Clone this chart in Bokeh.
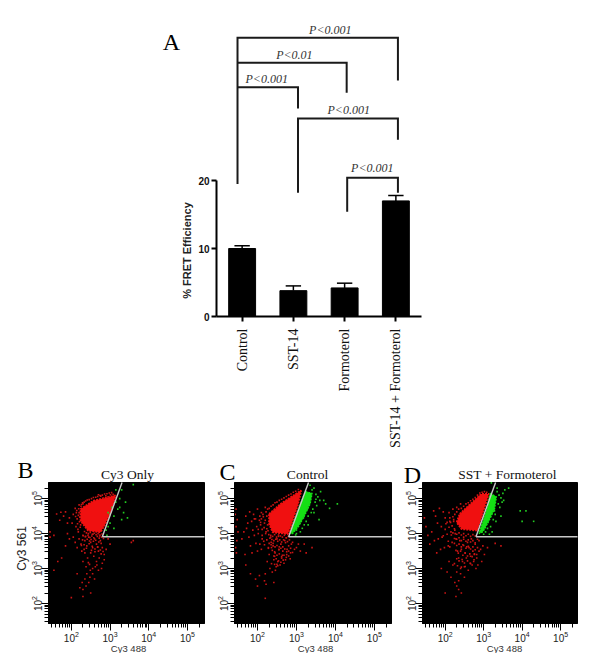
import math
import numpy as np
from bokeh.plotting import figure
from bokeh.layouts import column, row
from bokeh.models import Range1d, FixedTicker, LogTicker
from bokeh.core.properties import value
from bokeh.embed import file_html
from bokeh.resources import INLINE

# ---------- panel A data ----------
categories = ["Control", "SST-14", "Formoterol", "SST-14 + Formoterol"]
efficiency = [10.0, 3.8, 4.2, 17.0]
errors = [0.4, 0.7, 0.7, 0.8]
bracket_1_x = [0.41, 0.41, 3.54, 3.54]
bracket_1_y = [19.5, 41.0, 41.0, 34.7]
bracket_2_x = [0.41, 2.54, 2.54]
bracket_2_y = [37.3, 37.3, 32.9]
bracket_3_x = [0.41, 1.59, 1.59]
bracket_3_y = [33.7, 33.7, 30.6]
bracket_4_x = [1.59, 1.59, 3.54, 3.54]
bracket_4_y = [18.2, 29.1, 29.1, 26.0]
bracket_5_x = [2.55, 2.55, 3.54, 3.54]
bracket_5_y = [15.4, 20.4, 20.4, 18.2]
p_texts = ["P<0.001", "P<0.01", "P<0.001", "P<0.001", "P<0.001"]
p_x = [2.22, 1.52, 0.98, 2.58, 3.04]
p_y = [42.2, 38.5, 34.9, 30.3, 21.9]

# ---------- flow panels (log10 of intensity) ----------
gate_diag_x = [2.8, 3.31]
gate_diag_y = [3.91, 5.46]
gate_horiz_x = [2.8, 5.44]
gate_horiz_y = [3.91, 3.91]

b_core_x = [2.24, 2.58, 3.14, 3.05, 2.88, 2.75, 2.43, 2.24]
b_core_y = [4.70, 4.94, 5.09, 4.70, 4.28, 4.04, 4.09, 4.37]
b_red_x = [1.73,1.62,1.85,1.8,1.95,1.7,1.9,2.05,2.1,2.02,2.15,2.2,2.12,2.25,2.3,2.18,1.9,1.95,2.05,1.55,1.45,1.45,1.85,1.75,1.55,1.65,
           2.1,2.15,2.2,2.25,2.3,2.35,2.4,2.45,2.5,2.55,2.6,2.65,2.7,2.75,2.8,2.85,2.35,2.42,2.5,2.58,2.65,2.72,2.8,2.85,2.3,2.38,2.47,2.55,2.62,2.7,2.78,2.4,2.48,2.35,2.28,2.45,2.55,2.6,2.22,2.3,2.38,2.0,2.3,2.5,2.15,2.9,2.95,3.0,3.55,3.6,
           2.33,2.52,2.68,2.44,2.61,2.77,2.37,2.56,2.73,2.27,2.49,2.66]
b_red_y = [4.61,4.56,4.62,4.5,4.45,4.38,4.3,4.55,4.72,4.3,4.42,4.6,4.2,4.78,4.85,4.05,4.0,3.85,3.9,3.95,3.9,4.05,3.65,3.3,2.95,3.2,
           3.75,3.6,3.85,3.7,3.95,3.8,3.65,3.9,3.75,3.6,3.85,3.7,3.5,3.8,3.6,3.4,3.45,3.3,3.45,3.35,3.2,3.3,3.15,3.25,3.2,3.05,3.12,3.0,3.05,2.95,3.0,2.85,2.75,2.7,2.6,2.6,2.85,2.7,2.45,2.4,2.5,2.17,2.2,2.3,2.85,3.55,3.85,3.7,3.75,3.8,
           3.55,3.52,3.62,3.17,3.48,3.42,3.92,3.98,3.93,3.5,2.95,3.1]
b_red_more = [(2.14,4.66),(2.18,4.52),(2.21,4.34),(2.16,4.28),(2.22,4.47),(2.19,4.71),(2.11,4.49),(2.23,4.18),(2.17,4.12),(2.2,4.82),(2.13,4.6),(2.24,4.25),
              (2.26,4.83),(2.29,4.88),(2.33,4.9),(2.37,4.93),(2.41,4.96),(2.46,4.97),(2.52,5.0),(2.57,5.03),(2.63,5.04),(2.68,5.06),(2.74,5.09),(2.8,5.1),(2.86,5.13),(2.92,5.14),(2.98,5.16),(3.04,5.17),(3.08,5.12),
              (2.7,5.11),(2.76,5.07),(2.83,5.01),(2.89,5.08),(2.95,5.05),(3.01,5.11),(2.34,4.06),(2.39,4.02),(2.44,4.0),(2.49,4.03),(2.54,3.98),(2.59,4.01),(2.64,3.97),(2.69,4.0),(2.74,3.96),(2.79,3.99),
              (2.31,3.94),(2.36,3.91),(2.43,3.95),(2.48,3.89),(2.53,3.93),(2.58,3.88),(2.67,3.92),(2.72,3.87),(2.78,3.9),(2.83,3.86),(2.29,3.82),(2.41,3.84),(2.47,3.79),(2.51,3.83),(2.57,3.78),(2.63,3.81),(2.71,3.76),(2.77,3.72),
              (2.26,3.66),(2.33,3.68),(2.39,3.58),(2.46,3.71),(2.54,3.64),(2.61,3.56),(2.68,3.61),(2.75,3.53),(2.82,3.49)]
b_green_x = [2.95,3.0,3.05,3.1,3.15,3.2,3.25,2.95,2.9,3.0,3.1,3.3,3.35,3.4,3.45,3.6,3.25,3.15,3.3,2.92]
b_green_y = [4.6,4.55,4.75,4.5,4.9,4.7,5.0,4.2,4.1,4.3,4.15,5.25,4.6,4.9,4.45,5.4,4.75,5.25,4.4,3.95]

c_core_x = [2.30, 2.60, 3.12, 3.03, 2.86, 2.78, 2.39, 2.30]
c_core_y = [4.56, 4.85, 5.23, 4.80, 4.23, 3.99, 4.04, 4.28]
c_red_x = [1.45,1.43,1.48,1.45,1.5,1.47,1.44,1.46,1.7,1.8,1.9,2.0,2.1,2.2,1.75,1.85,1.95,2.05,2.15,1.65,1.72,1.88,1.98,2.08,2.18,1.6,1.78,1.92,2.02,2.12,
           2.22,1.82,1.96,2.06,2.16,1.68,1.86,2.0,2.1,2.28,2.35,2.4,2.5,2.6,2.7,2.8,2.9,3.0,3.1,3.2,2.3,2.45,2.55,2.65,2.75,2.85,2.95,2.25,2.42,2.52,2.62,2.72,2.32,2.48,2.58,2.68,2.2,2.38,2.46,1.95,2.05,2.18,2.0,2.22,2.42,1.82,1.7,2.2,
           2.36,2.56,2.76,2.44,2.64,2.84,2.34,2.54,2.74,2.5,3.4,3.25,3.05]
c_red_y = [4.7,4.55,4.4,4.2,4.05,3.8,3.6,3.45,4.5,4.62,4.55,4.7,4.6,4.75,4.3,4.35,4.42,4.38,4.48,4.05,4.15,4.1,4.2,4.25,4.3,3.85,3.9,3.95,4.0,3.95,
           4.05,3.65,3.72,3.7,3.78,3.4,3.45,3.5,3.55,3.6,3.75,3.65,3.85,3.7,3.8,3.65,3.75,3.6,3.5,3.7,3.4,3.45,3.55,3.5,3.4,3.45,3.55,3.2,3.25,3.2,3.3,3.25,3.0,3.05,3.1,3.15,2.85,2.9,2.95,2.7,2.8,2.65,2.5,2.55,2.6,2.85,3.1,2.15,
           3.6,3.62,3.55,3.35,3.38,3.28,3.9,3.92,3.88,3.12,3.6,3.45,3.7]
c_red_more = [(2.22,4.62),(2.26,4.7),(2.3,4.72),(2.35,4.78),(2.4,4.82),(2.45,4.88),(2.5,4.9),(2.56,4.95),(2.62,4.98),(2.68,5.02),(2.74,5.06),(2.8,5.1),(2.86,5.13),(2.92,5.18),(2.98,5.21),(3.05,5.26),
              (2.24,4.5),(2.2,4.38),(2.26,4.25),(2.24,4.14),(2.21,4.0),(2.27,4.08),(2.12,4.12),(2.08,4.32),(2.14,4.55),(2.06,4.5),(2.1,4.42),(2.17,4.17),(2.29,3.97),(2.34,3.95),(2.39,3.92),(2.44,3.97),(2.49,3.9),(2.54,3.96),(2.59,3.93),(2.64,3.9),(2.69,3.95),(2.74,3.88),(2.79,3.92),
              (2.32,3.87),(2.37,3.83),(2.42,3.8),(2.47,3.84),(2.52,3.78),(2.57,3.82),(2.62,3.76),(2.67,3.82),(2.72,3.74),(2.77,3.77),(2.82,3.82),(2.87,3.7),(2.3,3.72),(2.35,3.68),(2.4,3.72),(2.45,3.62),(2.5,3.66),(2.55,3.54),(2.6,3.58),(2.65,3.62),(2.7,3.56),(2.75,3.48),(2.8,3.5),(2.85,3.58),(2.9,3.46),
              (2.38,3.52),(2.44,3.48),(2.5,3.38),(2.56,3.42),(2.62,3.34),(2.68,3.38),(2.74,3.32),(2.8,3.36),(2.42,3.36),(2.48,3.28),(2.54,3.22),(2.6,3.18),(2.66,3.24),(2.36,3.14),(2.44,3.12),(2.52,3.08),(2.02,4.12),(1.92,4.42),(2.12,3.85),(2.18,3.68),(2.24,3.82),(2.28,3.58)]
c_strip_x = [3.23, 3.4, 3.35, 3.2, 3.05, 2.9, 2.84, 2.98, 3.09]
c_strip_y = [5.2, 5.15, 4.85, 4.5, 4.2, 4.0, 4.0, 4.45, 4.8]
c_green_x = [3.4,3.45,3.5,3.55,3.48,3.42,3.38,3.3,3.25,3.2,3.15,3.1,3.0,3.45,3.52,3.35,3.3,3.6,3.75,3.85,4.05,3.7,3.62,3.28,3.18,3.08,3.0,2.98,3.5,3.58]
c_green_y = [5.25,5.3,5.12,5.05,4.9,4.7,4.6,4.5,4.35,4.25,4.15,4.05,4.0,4.6,4.8,5.38,4.25,4.95,4.85,4.72,4.85,4.95,5.2,4.7,4.45,4.3,4.1,3.96,4.98,4.4]

d_core_x = [2.38, 2.94, 3.13, 2.98, 2.84, 2.43, 2.30, 2.38]
d_core_y = [4.56, 5.13, 5.13, 4.61, 4.09, 4.13, 4.32, 4.56]
d_red_x = [1.46,1.5,1.55,1.7,1.75,1.85,1.95,2.0,2.1,2.2,2.3,2.4,1.65,1.8,1.9,2.02,2.12,2.22,1.6,1.72,1.82,1.92,2.05,2.15,2.25,1.78,1.88,1.98,2.08,2.18,
           2.28,2.38,2.48,2.58,2.68,2.78,2.88,2.98,3.1,3.3,3.45,2.32,2.42,2.52,2.62,2.72,2.82,2.92,3.02,2.35,2.45,2.55,2.65,2.75,2.85,2.95,2.4,2.5,2.6,2.7,2.8,2.1,2.2,2.3,2.4,2.5,2.15,2.25,2.35,1.9,2.05,2.3,2.35,2.42,2.28,2.0,2.46,2.56,2.66,2.76]
d_red_y = [4.45,4.2,3.95,4.65,4.5,4.72,4.62,4.45,4.6,4.7,4.75,4.85,4.05,4.3,4.2,4.28,4.35,4.4,3.7,3.8,3.85,3.9,3.98,4.05,4.1,3.45,3.55,3.6,3.65,3.75,
           3.85,3.8,3.9,3.75,3.85,3.7,3.8,3.65,3.6,3.72,3.65,3.5,3.55,3.45,3.6,3.5,3.4,3.55,3.4,3.3,3.2,3.3,3.15,3.25,3.1,3.2,3.0,3.05,2.95,3.1,3.0,3.2,3.1,2.9,2.85,2.75,2.75,2.6,2.65,3.0,2.9,2.5,2.4,2.3,2.2,2.3,3.68,3.62,3.35,3.42]
d_red_more = [(2.2,4.48),(2.25,4.55),(2.3,4.62),(2.35,4.7),(2.42,4.72),(2.48,4.78),(2.54,4.85),(2.6,4.88),(2.66,4.94),(2.72,4.98),(2.78,5.03),(2.84,5.1),(2.9,5.16),(2.96,5.18),(3.02,5.2),(3.08,5.18),
              (2.22,4.35),(2.18,4.22),(2.24,4.14),(2.14,4.32),(2.1,4.18),(2.2,4.02),(2.26,4.0),(2.12,4.45),(2.05,4.32),(2.16,3.96),(2.3,3.98),(2.36,4.02),(2.42,3.96),(2.48,4.0),(2.54,3.94),(2.6,3.98),(2.66,3.92),(2.72,3.97),(2.78,3.93),
              (2.24,3.86),(2.3,3.84),(2.36,3.88),(2.42,3.8),(2.48,3.84),(2.54,3.78),(2.6,3.82),(2.66,3.76),(2.72,3.8),(2.78,3.74),(2.84,3.84),(2.24,3.72),(2.3,3.66),(2.36,3.7),(2.42,3.62),(2.48,3.66),(2.54,3.58),(2.6,3.64),(2.66,3.56),(2.72,3.62),(2.78,3.54),(2.84,3.6),(2.88,3.5),
              (2.28,3.52),(2.34,3.44),(2.4,3.5),(2.46,3.38),(2.52,3.44),(2.58,3.36),(2.64,3.42),(2.7,3.34),(2.76,3.4),(2.82,3.3),(2.3,3.28),(2.36,3.22),(2.44,3.26),(2.5,3.16),(2.58,3.22),(2.66,3.14),(2.74,3.2),(2.24,3.14),(2.32,3.08),(2.42,3.04),(2.52,3.06),(2.0,4.12),(1.95,3.94),(2.08,3.78),(2.12,3.62)]
d_strip_x = [3.17, 3.33, 3.28, 3.13, 2.98, 2.88, 3.0, 3.1]
d_strip_y = [5.15, 5.05, 4.7, 4.35, 4.05, 4.0, 4.4, 4.75]
d_green_x = [3.35,3.4,3.45,3.5,3.38,3.3,3.25,3.18,3.1,3.05,3.42,3.48,3.32,3.22,3.15,3.55,3.65,3.2,3.95,4.1,4.0,4.3,3.35,3.28,3.0,3.52,3.45]
d_green_y = [5.2,5.1,5.02,5.15,4.85,4.55,4.4,4.2,4.15,4.05,4.75,4.9,4.35,4.05,3.98,5.25,5.3,5.45,4.65,4.65,4.35,4.35,5.3,4.65,3.98,4.95,4.5]

DARK = "#111111"
SERIF = "Liberation Serif"
SANS = "Liberation Sans"

# ---------- panel A: the frame fills the canvas, the axes stay fixed at zero ----------
BAR_W, BAR_H = 592, 452
UNIT_X, UNIT_Y = 51.25, 6.8
AXIS_LEFT, AXIS_BOTTOM = 216, 316
bar = figure(width=BAR_W, height=BAR_H,
             x_range=Range1d(-AXIS_LEFT / UNIT_X, (BAR_W - AXIS_LEFT) / UNIT_X),
             y_range=Range1d((AXIS_BOTTOM - BAR_H) / UNIT_Y, AXIS_BOTTOM / UNIT_Y),
             output_backend="svg", toolbar_location=None,
             min_border_left=0, min_border_right=0, min_border_top=0, min_border_bottom=0)
bar.outline_line_color = None
bar.grid.visible = False
centers = [i + 0.5 for i in range(len(categories))]
bar.vbar(x=centers, top=efficiency, width=0.525, bottom=0, color="black")
tops = [v + e for v, e in zip(efficiency, errors)]
bar.segment(x0=centers, x1=centers, y0=efficiency, y1=tops, color="black", line_width=1.5)
bar.segment(x0=[c - 0.15 for c in centers], x1=[c + 0.15 for c in centers], y0=tops, y1=tops, color="black", line_width=1.5)
for bx, by in [(bracket_1_x, bracket_1_y), (bracket_2_x, bracket_2_y), (bracket_3_x, bracket_3_y),
               (bracket_4_x, bracket_4_y), (bracket_5_x, bracket_5_y)]:
    bar.line(bx, by, color="#1a1a1a", line_width=2, line_join="miter")
bar.text(x=p_x, y=p_y, text=p_texts, text_font=value(SERIF), text_font_style="italic",
         text_font_size="12px", text_align="center", text_baseline="middle", text_color="#333333")
bar.text(x=[-0.585], y=[9.7], text=["% FRET Efficiency"], angle=math.pi / 2, text_font=value(SANS),
         text_font_style="bold", text_font_size="11px", text_align="center", text_baseline="middle",
         text_color="#222222")
bar.text(x=[-0.88], y=[40.3], text=["A"], text_font=value(SERIF), text_font_size="24px",
         text_align="center", text_baseline="middle", text_color="black")

ya = bar.yaxis[0]
ya.fixed_location = 0
ya.bounds = (0, 20)
ya.ticker = FixedTicker(ticks=[0, 10, 20])
ya.major_label_text_font = SANS
ya.major_label_text_font_style = "bold"
ya.major_label_text_font_size = "10px"
ya.major_label_text_color = DARK
ya.axis_line_width = 2
ya.major_tick_line_width = 2
ya.major_tick_in = 0
ya.major_tick_out = 5
ya.minor_tick_line_color = None
ya.major_label_standoff = 2

xa = bar.xaxis[0]
xa.fixed_location = 0
xa.bounds = (0, 4)
xa.ticker = FixedTicker(ticks=centers)
xa.major_label_overrides = {c: n for c, n in zip(centers, categories)}
xa.major_label_orientation = math.pi / 2
xa.major_label_text_font = SERIF
xa.major_label_text_font_size = "14px"
xa.major_label_text_color = DARK
xa.axis_line_width = 2
xa.major_tick_line_width = 2
xa.major_tick_in = 0
xa.major_tick_out = 5
xa.minor_tick_line_color = None
xa.major_label_standoff = 7

# ---------- flow panels: the frame fills the canvas too ----------
X_MIN, X_MAX = 1.41, 5.44
Y_MIN, Y_MAX = 1.43, 5.46
FLOW_H, BOX_TOP, BOX_BOTTOM = 201, 30, 171


def flow(width, box_left, box_right, title, title_x, letter, letter_x, letter_y, label_x,
         core, red, strip, green, ylabel=None):
    dx = (box_right - box_left) / (X_MAX - X_MIN)
    dy = (BOX_BOTTOM - BOX_TOP) / (Y_MAX - Y_MIN)
    to_x = lambda px: 10 ** (X_MIN + (px - box_left) / dx)
    to_y = lambda py: 10 ** (Y_MAX - (py - BOX_TOP) / dy)
    p = figure(width=width, height=FLOW_H, x_axis_type="log", y_axis_type="log",
               x_range=Range1d(to_x(0), to_x(width)), y_range=Range1d(to_y(FLOW_H), to_y(0)),
               output_backend="svg", toolbar_location=None,
               min_border_left=0, min_border_right=0, min_border_top=0, min_border_bottom=0)
    p.grid.visible = False
    p.outline_line_color = None
    e = lambda v: 10 ** np.array(v)
    p.quad(left=[10 ** X_MIN], right=[10 ** X_MAX], bottom=[10 ** Y_MIN], top=[10 ** Y_MAX],
           color="black", line_color="black")
    p.patch(e(core[0]), e(core[1]), color="#f01010", line_color="#f01010", line_width=2, line_dash="2 1")
    p.scatter(e(red[0]), e(red[1]), marker="square", size=1.6, color="#c81414", line_color=None)
    if strip is not None:
        p.patch(e(strip[0]), e(strip[1]), color="#14e014", line_color="#14e014", line_width=1.5, line_dash="2 1")
    p.scatter(e(green[0]), e(green[1]), marker="square", size=1.6, color="#22cc22", line_color=None)
    p.line(e(gate_diag_x), e(gate_diag_y), color="#c8c8c8", line_width=1.4)
    p.line(e(gate_horiz_x), e(gate_horiz_y), color="#c8c8c8", line_width=1.4)
    p.xaxis[0].fixed_location = 10 ** Y_MIN
    p.xaxis[0].bounds = (10 ** X_MIN, 10 ** X_MAX)
    p.yaxis[0].fixed_location = 10 ** X_MIN
    p.yaxis[0].bounds = (10 ** Y_MIN, 10 ** Y_MAX)
    for a in (p.xaxis[0], p.yaxis[0]):
        a.ticker = LogTicker(num_minor_ticks=10)
        a.major_label_text_font = SANS
        a.major_label_text_font_size = "10px"
        a.major_label_text_color = "#222222"
        a.major_tick_in = 0
        a.major_tick_out = 7
        a.minor_tick_in = 0
        a.minor_tick_out = 4
        a.axis_line_color = "black"
        a.major_label_standoff = 0
    p.yaxis[0].major_label_orientation = "vertical"
    p.text(x=[to_x(title_x)], y=[to_y(22)], text=[title], text_font=value(SERIF), text_font_size="13.5px",
           text_align="center", text_baseline="middle", text_color=DARK)
    p.text(x=[to_x(letter_x)], y=[to_y(letter_y)], text=[letter], text_font=value(SERIF), text_font_size="24px",
           text_align="center", text_baseline="middle", text_color="black")
    p.text(x=[to_x(label_x)], y=[to_y(196)], text=["Cy3 488"], text_font=value(SANS), text_font_size="9.5px",
           text_align="center", text_baseline="middle", text_color="#333333")
    if ylabel:
        p.text(x=[to_x(21)], y=[to_y(96)], text=[ylabel], angle=math.pi / 2, text_font=value(SANS),
               text_font_size="12px", text_align="center", text_baseline="middle", text_color="#222222")
    return p


def with_more(xs, ys, more):
    mx, my = zip(*more)
    return (list(xs) + list(mx), list(ys) + list(my))


pb = flow(212, 48, 204, "Cy3 Only", 127, "B", 25, 17, 128, (b_core_x, b_core_y),
          with_more(b_red_x, b_red_y, b_red_more), None, (b_green_x, b_green_y), ylabel="Cy3 561")
pc = flow(188, 22, 179, "Control", 95, "C", 15, 19, 103, (c_core_x, c_core_y),
          with_more(c_red_x, c_red_y, c_red_more), (c_strip_x, c_strip_y), (c_green_x, c_green_y))
pd = flow(192, 22, 177, "SST + Formoterol", 107, "D", 12, 22, 104, (d_core_x, d_core_y),
          with_more(d_red_x, d_red_y, d_red_more), (d_strip_x, d_strip_y), (d_green_x, d_green_y))

page = column(bar, row(pb, pc, pd))
open("out.html", "w").write(file_html(page, INLINE))
